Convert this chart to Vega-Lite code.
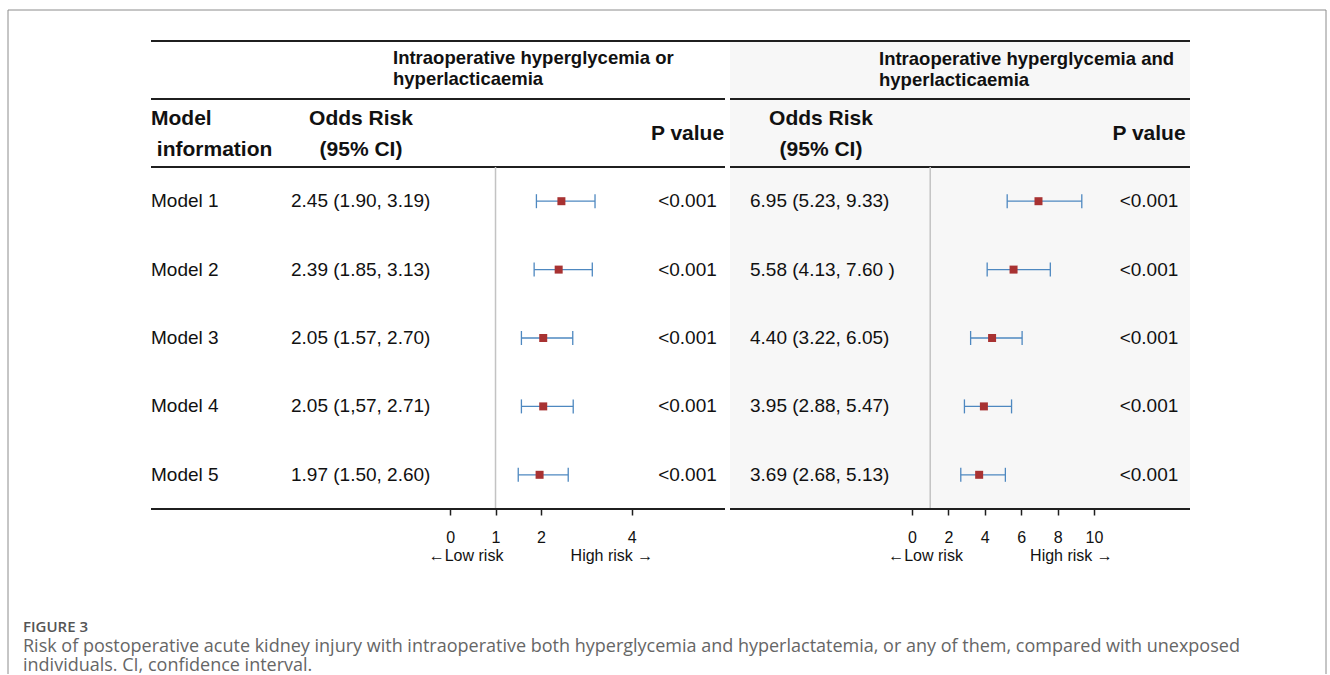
{
"$schema": "https://vega.github.io/schema/vega-lite/v6.json",
"padding": {"left": 7, "top": 9, "right": 0, "bottom": 0},
"background": "white",
"data": {"values": [{}]},
"datasets": {
"left": [
{"model":"Model 1","or":"2.45 (1.90, 3.19)","est":2.45,"lo":1.90,"hi":3.19,"p":"<0.001"},
{"model":"Model 2","or":"2.39 (1.85, 3.13)","est":2.39,"lo":1.85,"hi":3.13,"p":"<0.001"},
{"model":"Model 3","or":"2.05 (1.57, 2.70)","est":2.05,"lo":1.57,"hi":2.70,"p":"<0.001"},
{"model":"Model 4","or":"2.05 (1,57, 2.71)","est":2.05,"lo":1.57,"hi":2.71,"p":"<0.001"},
{"model":"Model 5","or":"1.97 (1.50, 2.60)","est":1.97,"lo":1.50,"hi":2.60,"p":"<0.001"}
],
"right": [
{"model":"Model 1","or":"6.95 (5.23, 9.33)","est":6.95,"lo":5.23,"hi":9.33,"p":"<0.001"},
{"model":"Model 2","or":"5.58 (4.13, 7.60 )","est":5.58,"lo":4.13,"hi":7.60,"p":"<0.001"},
{"model":"Model 3","or":"4.40 (3.22, 6.05)","est":4.40,"lo":3.22,"hi":6.05,"p":"<0.001"},
{"model":"Model 4","or":"3.95 (2.88, 5.47)","est":3.95,"lo":2.88,"hi":5.47,"p":"<0.001"},
{"model":"Model 5","or":"3.69 (2.68, 5.13)","est":3.69,"lo":2.68,"hi":5.13,"p":"<0.001"}
],
"caption": [
{"line":"fig","text":"FIGURE 3"},
{"line":"l1","text":"Risk of postoperative acute kidney injury with intraoperative both hyperglycemia and hyperlactatemia, or any of them, compared with unexposed"},
{"line":"l2","text":"individuals. CI, confidence interval."}
]
},
"columns": 16,
"spacing": 0,
"bounds": "flush",
"concat": [
{"width":15,"height":31,"layer":[{"data":{"values":[{}]},"mark":{"type":"rule","color":"#8c8c8c","strokeWidth":1},"encoding":{"y":{"value":0}}},{"data":{"values":[{}]},"mark":{"type":"rule","color":"#8c8c8c","strokeWidth":1},"encoding":{"x":{"value":0}}}]},
{"width":128,"height":31,"layer":[{"data":{"values":[{}]},"mark":{"type":"rule","color":"#8c8c8c","strokeWidth":1},"encoding":{"y":{"value":0}}}]},
{"width":140,"height":31,"layer":[{"data":{"values":[{}]},"mark":{"type":"rule","color":"#8c8c8c","strokeWidth":1},"encoding":{"y":{"value":0}}}]},
{"width":70,"height":31,"layer":[{"data":{"values":[{}]},"mark":{"type":"rule","color":"#8c8c8c","strokeWidth":1},"encoding":{"y":{"value":0}}}]},
{"width":32,"height":31,"layer":[{"data":{"values":[{}]},"mark":{"type":"rule","color":"#8c8c8c","strokeWidth":1},"encoding":{"y":{"value":0}}}]},
{"width":38,"height":31,"layer":[{"data":{"values":[{}]},"mark":{"type":"rule","color":"#8c8c8c","strokeWidth":1},"encoding":{"y":{"value":0}}}]},
{"width":219,"height":31,"layer":[{"data":{"values":[{}]},"mark":{"type":"rule","color":"#8c8c8c","strokeWidth":1},"encoding":{"y":{"value":0}}}]},
{"width":75,"height":31,"layer":[{"data":{"values":[{}]},"mark":{"type":"rule","color":"#8c8c8c","strokeWidth":1},"encoding":{"y":{"value":0}}}]},
{"width":5,"height":31,"layer":[{"data":{"values":[{}]},"mark":{"type":"rule","color":"#8c8c8c","strokeWidth":1},"encoding":{"y":{"value":0}}}]},
{"width":20,"height":31,"layer":[{"data":{"values":[{}]},"mark":{"type":"rule","color":"#8c8c8c","strokeWidth":1},"encoding":{"y":{"value":0}}}]},
{"width":71,"height":31,"layer":[{"data":{"values":[{}]},"mark":{"type":"rule","color":"#8c8c8c","strokeWidth":1},"encoding":{"y":{"value":0}}}]},
{"width":58,"height":31,"layer":[{"data":{"values":[{}]},"mark":{"type":"rule","color":"#8c8c8c","strokeWidth":1},"encoding":{"y":{"value":0}}}]},
{"width":13,"height":31,"layer":[{"data":{"values":[{}]},"mark":{"type":"rule","color":"#8c8c8c","strokeWidth":1},"encoding":{"y":{"value":0}}}]},
{"width":216,"height":31,"layer":[{"data":{"values":[{}]},"mark":{"type":"rule","color":"#8c8c8c","strokeWidth":1},"encoding":{"y":{"value":0}}}]},
{"width":82,"height":31,"layer":[{"data":{"values":[{}]},"mark":{"type":"rule","color":"#8c8c8c","strokeWidth":1},"encoding":{"y":{"value":0}}}]},
{"width":136,"height":31,"layer":[{"data":{"values":[{}]},"mark":{"type":"rule","color":"#8c8c8c","strokeWidth":1},"encoding":{"y":{"value":0}}},{"data":{"values":[{}]},"mark":{"type":"rule","color":"#8c8c8c","strokeWidth":1},"encoding":{"x":{"value":"width"}}}]},

{"width":15,"height":58,"layer":[{"data":{"values":[{}]},"mark":{"type":"rule","color":"#8c8c8c","strokeWidth":1},"encoding":{"x":{"value":0}}}]},
{"width":128,"height":58,"layer":[{"data":{"values":[{}]},"mark":{"type":"rule","opacity":0},"encoding":{"y":{"value":0}}}]},
{"width":140,"height":58,"layer":[{"data":{"values":[{}]},"mark":{"type":"rule","color":"#1f1f1f","strokeWidth":2},"encoding":{"y":{"value":0}}},{"data":{"values":[{}]},"mark":{"type":"rule","color":"#1f1f1f","strokeWidth":2},"encoding":{"y":{"value":"height"}}}]},
{"width":70,"height":58,"layer":[{"data":{"values":[{}]},"mark":{"type":"rule","color":"#1f1f1f","strokeWidth":2},"encoding":{"y":{"value":0}}},{"data":{"values":[{}]},"mark":{"type":"rule","color":"#1f1f1f","strokeWidth":2},"encoding":{"y":{"value":"height"}}}]},
{"width":32,"height":58,"layer":[{"data":{"values":[{}]},"mark":{"type":"rule","color":"#1f1f1f","strokeWidth":2},"encoding":{"y":{"value":0}}},{"data":{"values":[{}]},"mark":{"type":"rule","color":"#1f1f1f","strokeWidth":2},"encoding":{"y":{"value":"height"}}}]},
{"width":38,"height":58,"layer":[{"data":{"values":[{}]},"mark":{"type":"rule","color":"#1f1f1f","strokeWidth":2},"encoding":{"y":{"value":0}}},{"data":{"values":[{}]},"mark":{"type":"rule","color":"#1f1f1f","strokeWidth":2},"encoding":{"y":{"value":"height"}}},{"data":{"values":[{}]},"mark":{"type":"text","align":"left","baseline":"middle","fontSize":18.5,"fontWeight":"bold","lineHeight":21,"color":"#111","dy":-12},"encoding":{"x":{"value":0},"text":{"value":["Intraoperative hyperglycemia or","hyperlacticaemia"]}}}]},
{"width":219,"height":58,"layer":[{"data":{"values":[{}]},"mark":{"type":"rule","color":"#1f1f1f","strokeWidth":2},"encoding":{"y":{"value":0}}},{"data":{"values":[{}]},"mark":{"type":"rule","color":"#1f1f1f","strokeWidth":2},"encoding":{"y":{"value":"height"}}}]},
{"width":75,"height":58,"layer":[{"data":{"values":[{}]},"mark":{"type":"rule","color":"#1f1f1f","strokeWidth":2},"encoding":{"y":{"value":0}}},{"data":{"values":[{}]},"mark":{"type":"rule","color":"#1f1f1f","strokeWidth":2},"encoding":{"y":{"value":"height"}}}]},
{"width":5,"height":58,"layer":[{"data":{"values":[{}]},"mark":{"type":"rule","color":"#1f1f1f","strokeWidth":2},"encoding":{"y":{"value":0}}}]},
{"width":20,"height":58,"view":{"fill":"#000000","fillOpacity":0.03},"layer":[{"data":{"values":[{}]},"mark":{"type":"rule","color":"#1f1f1f","strokeWidth":2},"encoding":{"y":{"value":0}}},{"data":{"values":[{}]},"mark":{"type":"rule","color":"#1f1f1f","strokeWidth":2},"encoding":{"y":{"value":"height"}}}]},
{"width":71,"height":58,"view":{"fill":"#000000","fillOpacity":0.03},"layer":[{"data":{"values":[{}]},"mark":{"type":"rule","color":"#1f1f1f","strokeWidth":2},"encoding":{"y":{"value":0}}},{"data":{"values":[{}]},"mark":{"type":"rule","color":"#1f1f1f","strokeWidth":2},"encoding":{"y":{"value":"height"}}}]},
{"width":58,"height":58,"view":{"fill":"#000000","fillOpacity":0.03},"layer":[{"data":{"values":[{}]},"mark":{"type":"rule","color":"#1f1f1f","strokeWidth":2},"encoding":{"y":{"value":0}}},{"data":{"values":[{}]},"mark":{"type":"rule","color":"#1f1f1f","strokeWidth":2},"encoding":{"y":{"value":"height"}}}]},
{"width":13,"height":58,"view":{"fill":"#000000","fillOpacity":0.03},"layer":[{"data":{"values":[{}]},"mark":{"type":"rule","color":"#1f1f1f","strokeWidth":2},"encoding":{"y":{"value":0}}},{"data":{"values":[{}]},"mark":{"type":"rule","color":"#1f1f1f","strokeWidth":2},"encoding":{"y":{"value":"height"}}},{"data":{"values":[{}]},"mark":{"type":"text","align":"left","baseline":"middle","fontSize":18.5,"fontWeight":"bold","lineHeight":21,"color":"#111","dy":-11},"encoding":{"x":{"value":0},"text":{"value":["Intraoperative hyperglycemia and","hyperlacticaemia"]}}}]},
{"width":216,"height":58,"view":{"fill":"#000000","fillOpacity":0.03},"layer":[{"data":{"values":[{}]},"mark":{"type":"rule","color":"#1f1f1f","strokeWidth":2},"encoding":{"y":{"value":0}}},{"data":{"values":[{}]},"mark":{"type":"rule","color":"#1f1f1f","strokeWidth":2},"encoding":{"y":{"value":"height"}}}]},
{"width":82,"height":58,"view":{"fill":"#000000","fillOpacity":0.03},"layer":[{"data":{"values":[{}]},"mark":{"type":"rule","color":"#1f1f1f","strokeWidth":2},"encoding":{"y":{"value":0}}},{"data":{"values":[{}]},"mark":{"type":"rule","color":"#1f1f1f","strokeWidth":2},"encoding":{"y":{"value":"height"}}}]},
{"width":136,"height":58,"layer":[{"data":{"values":[{}]},"mark":{"type":"rule","color":"#8c8c8c","strokeWidth":1},"encoding":{"x":{"value":"width"}}}]},

{"width":15,"height":68,"layer":[{"data":{"values":[{}]},"mark":{"type":"rule","color":"#8c8c8c","strokeWidth":1},"encoding":{"x":{"value":0}}}]},
{"width":128,"height":68,"layer":[{"data":{"values":[{}]},"mark":{"type":"rule","opacity":0},"encoding":{"y":{"value":0}}}]},
{"width":140,"height":68,"layer":[{"data":{"values":[{}]},"mark":{"type":"rule","color":"#1f1f1f","strokeWidth":2},"encoding":{"y":{"value":"height"}}},{"data":{"values":[{}]},"mark":{"type":"text","align":"left","baseline":"middle","fontSize":21,"fontWeight":"bold","lineHeight":31,"color":"#111","dy":-14},"encoding":{"x":{"value":0},"text":{"value":["Model","\u200b information"]}}}]},
{"width":70,"height":68,"layer":[{"data":{"values":[{}]},"mark":{"type":"rule","color":"#1f1f1f","strokeWidth":2},"encoding":{"y":{"value":"height"}}}]},
{"width":32,"height":68,"layer":[{"data":{"values":[{}]},"mark":{"type":"rule","color":"#1f1f1f","strokeWidth":2},"encoding":{"y":{"value":"height"}}},{"data":{"values":[{}]},"mark":{"type":"text","align":"center","baseline":"middle","fontSize":21,"fontWeight":"bold","lineHeight":31,"color":"#111","dy":-14},"encoding":{"x":{"value":0},"text":{"value":["Odds Risk","(95% CI)"]}}}]},
{"width":38,"height":68,"layer":[{"data":{"values":[{}]},"mark":{"type":"rule","color":"#1f1f1f","strokeWidth":2},"encoding":{"y":{"value":"height"}}}]},
{"width":219,"height":68,"layer":[{"data":{"values":[{}]},"mark":{"type":"rule","color":"#1f1f1f","strokeWidth":2},"encoding":{"y":{"value":"height"}}}]},
{"width":75,"height":68,"layer":[{"data":{"values":[{}]},"mark":{"type":"rule","color":"#1f1f1f","strokeWidth":2},"encoding":{"y":{"value":"height"}}},{"data":{"values":[{}]},"mark":{"type":"text","align":"center","baseline":"middle","fontSize":21,"fontWeight":"bold","color":"#111","dy":1},"encoding":{"text":{"value":"P value"}}}]},
{"width":5,"height":68,"layer":[{"data":{"values":[{}]},"mark":{"type":"rule","opacity":0},"encoding":{"y":{"value":0}}}]},
{"width":20,"height":68,"view":{"fill":"#000000","fillOpacity":0.03},"layer":[{"data":{"values":[{}]},"mark":{"type":"rule","color":"#1f1f1f","strokeWidth":2},"encoding":{"y":{"value":"height"}}}]},
{"width":71,"height":68,"view":{"fill":"#000000","fillOpacity":0.03},"layer":[{"data":{"values":[{}]},"mark":{"type":"rule","color":"#1f1f1f","strokeWidth":2},"encoding":{"y":{"value":"height"}}}]},
{"width":58,"height":68,"view":{"fill":"#000000","fillOpacity":0.03},"layer":[{"data":{"values":[{}]},"mark":{"type":"rule","color":"#1f1f1f","strokeWidth":2},"encoding":{"y":{"value":"height"}}},{"data":{"values":[{}]},"mark":{"type":"text","align":"center","baseline":"middle","fontSize":21,"fontWeight":"bold","lineHeight":31,"color":"#111","dy":-14},"encoding":{"x":{"value":0},"text":{"value":["Odds Risk","(95% CI)"]}}}]},
{"width":13,"height":68,"view":{"fill":"#000000","fillOpacity":0.03},"layer":[{"data":{"values":[{}]},"mark":{"type":"rule","color":"#1f1f1f","strokeWidth":2},"encoding":{"y":{"value":"height"}}}]},
{"width":216,"height":68,"view":{"fill":"#000000","fillOpacity":0.03},"layer":[{"data":{"values":[{}]},"mark":{"type":"rule","color":"#1f1f1f","strokeWidth":2},"encoding":{"y":{"value":"height"}}}]},
{"width":82,"height":68,"view":{"fill":"#000000","fillOpacity":0.03},"layer":[{"data":{"values":[{}]},"mark":{"type":"rule","color":"#1f1f1f","strokeWidth":2},"encoding":{"y":{"value":"height"}}},{"data":{"values":[{}]},"mark":{"type":"text","align":"center","baseline":"middle","fontSize":21,"fontWeight":"bold","color":"#111","dy":1},"encoding":{"text":{"value":"P value"}}}]},
{"width":136,"height":68,"layer":[{"data":{"values":[{}]},"mark":{"type":"rule","color":"#8c8c8c","strokeWidth":1},"encoding":{"x":{"value":"width"}}}]},

{"width":15,"height":342,"layer":[{"data":{"values":[{}]},"mark":{"type":"rule","color":"#8c8c8c","strokeWidth":1},"encoding":{"x":{"value":0}}}]},
{"width":128,"height":342,"layer":[{"data":{"values":[{}]},"mark":{"type":"rule","opacity":0},"encoding":{"y":{"value":0}}}]},
{"width":140,"height":342,"data":{"name":"left"},"layer":[{"data":{"values":[{}]},"mark":{"type":"rule","color":"#1f1f1f","strokeWidth":2},"encoding":{"y":{"value":"height"}}},{"mark":{"type":"text","align":"left","baseline":"middle","fontSize":19,"color":"#111"},"encoding":{"x":{"value":0},"y":{"field":"model","type":"nominal","axis":null,"scale":{"type":"point","padding":0.5,"domain":["Model 1","Model 2","Model 3","Model 4","Model 5"]}},"text":{"field":"model"}}}]},
{"width":70,"height":342,"data":{"name":"left"},"layer":[{"data":{"values":[{}]},"mark":{"type":"rule","color":"#1f1f1f","strokeWidth":2},"encoding":{"y":{"value":"height"}}},{"mark":{"type":"text","align":"left","baseline":"middle","fontSize":19,"color":"#111"},"encoding":{"x":{"value":0},"y":{"field":"model","type":"nominal","axis":null,"scale":{"type":"point","padding":0.5,"domain":["Model 1","Model 2","Model 3","Model 4","Model 5"]}},"text":{"field":"or"}}}]},
{"width":32,"height":342,"layer":[{"data":{"values":[{}]},"mark":{"type":"rule","color":"#1f1f1f","strokeWidth":2},"encoding":{"y":{"value":"height"}}}]},
{"width":38,"height":342,"layer":[{"data":{"values":[{}]},"mark":{"type":"rule","color":"#1f1f1f","strokeWidth":2},"encoding":{"y":{"value":"height"}}}]},
{"width":219,"height":342,"data":{"name":"left"},"layer":[
 {"mark":{"type":"rule","color":"#4e88c0","strokeWidth":1.3},"encoding":{"x":{"field":"lo","type":"quantitative","scale":{"domain":[-0.42,4.4],"nice":false,"zero":false},"axis":{"values":[0,1,2,4],"format":"d","domain":false,"grid":false,"tickSize":6,"tickWidth":1.5,"tickColor":"#1f1f1f","labelFont":"Liberation Sans","labelFontSize":16,"labelColor":"#111","labelPadding":14,"labelFlush":false,"labelOverlap":false,"title":"←Low risk\u2003\u2003\u2003\u2003\u2009High risk →","titleFont":"Liberation Sans","titleFontSize":16,"titleFontWeight":"normal","titleColor":"#111","titlePadding":2}},"x2":{"field":"hi"},"y":{"field":"model","type":"nominal","axis":null,"scale":{"type":"point","padding":0.5,"domain":["Model 1","Model 2","Model 3","Model 4","Model 5"]}}}},
 {"data":{"values":[{}]},"mark":{"type":"rule","color":"#c3c3c3","strokeWidth":1.5},"encoding":{"x":{"datum":1,"type":"quantitative","scale":{"domain":[-0.42,4.4],"nice":false,"zero":false},"axis":{"values":[0,1,2,4],"format":"d","domain":false,"grid":false,"tickSize":6,"tickWidth":1.5,"tickColor":"#1f1f1f","labelFont":"Liberation Sans","labelFontSize":16,"labelColor":"#111","labelPadding":14,"labelFlush":false,"labelOverlap":false,"title":"←Low risk\u2003\u2003\u2003\u2003\u2009High risk →","titleFont":"Liberation Sans","titleFontSize":16,"titleFontWeight":"normal","titleColor":"#111","titlePadding":2}}}},
 {"mark":{"type":"tick","orient":"vertical","size":14,"thickness":1.3,"color":"#4e88c0","opacity":1},"encoding":{"x":{"field":"lo","type":"quantitative","scale":{"domain":[-0.42,4.4],"nice":false,"zero":false},"axis":{"values":[0,1,2,4],"format":"d","domain":false,"grid":false,"tickSize":6,"tickWidth":1.5,"tickColor":"#1f1f1f","labelFont":"Liberation Sans","labelFontSize":16,"labelColor":"#111","labelPadding":14,"labelFlush":false,"labelOverlap":false,"title":"←Low risk\u2003\u2003\u2003\u2003\u2009High risk →","titleFont":"Liberation Sans","titleFontSize":16,"titleFontWeight":"normal","titleColor":"#111","titlePadding":2}},"y":{"field":"model","type":"nominal","axis":null,"scale":{"type":"point","padding":0.5,"domain":["Model 1","Model 2","Model 3","Model 4","Model 5"]}}}},
 {"mark":{"type":"tick","orient":"vertical","size":14,"thickness":1.3,"color":"#4e88c0","opacity":1},"encoding":{"x":{"field":"hi","type":"quantitative","scale":{"domain":[-0.42,4.4],"nice":false,"zero":false},"axis":{"values":[0,1,2,4],"format":"d","domain":false,"grid":false,"tickSize":6,"tickWidth":1.5,"tickColor":"#1f1f1f","labelFont":"Liberation Sans","labelFontSize":16,"labelColor":"#111","labelPadding":14,"labelFlush":false,"labelOverlap":false,"title":"←Low risk\u2003\u2003\u2003\u2003\u2009High risk →","titleFont":"Liberation Sans","titleFontSize":16,"titleFontWeight":"normal","titleColor":"#111","titlePadding":2}},"y":{"field":"model","type":"nominal","axis":null,"scale":{"type":"point","padding":0.5,"domain":["Model 1","Model 2","Model 3","Model 4","Model 5"]}}}},
 {"mark":{"type":"square","size":64,"color":"#a83232","opacity":1,"filled":true},"encoding":{"x":{"field":"est","type":"quantitative","scale":{"domain":[-0.42,4.4],"nice":false,"zero":false},"axis":{"values":[0,1,2,4],"format":"d","domain":false,"grid":false,"tickSize":6,"tickWidth":1.5,"tickColor":"#1f1f1f","labelFont":"Liberation Sans","labelFontSize":16,"labelColor":"#111","labelPadding":14,"labelFlush":false,"labelOverlap":false,"title":"←Low risk\u2003\u2003\u2003\u2003\u2009High risk →","titleFont":"Liberation Sans","titleFontSize":16,"titleFontWeight":"normal","titleColor":"#111","titlePadding":2}},"y":{"field":"model","type":"nominal","axis":null,"scale":{"type":"point","padding":0.5,"domain":["Model 1","Model 2","Model 3","Model 4","Model 5"]}}}},
 {"data":{"values":[{}]},"mark":{"type":"rule","color":"#1f1f1f","strokeWidth":2},"encoding":{"y":{"value":"height"}}}]},
{"width":75,"height":342,"data":{"name":"left"},"layer":[{"data":{"values":[{}]},"mark":{"type":"rule","color":"#1f1f1f","strokeWidth":2},"encoding":{"y":{"value":"height"}}},{"mark":{"type":"text","align":"center","baseline":"middle","fontSize":19,"color":"#111"},"encoding":{"y":{"field":"model","type":"nominal","axis":null,"scale":{"type":"point","padding":0.5,"domain":["Model 1","Model 2","Model 3","Model 4","Model 5"]}},"text":{"field":"p"}}}]},
{"width":5,"height":342,"layer":[{"data":{"values":[{}]},"mark":{"type":"rule","opacity":0},"encoding":{"y":{"value":0}}}]},
{"width":20,"height":342,"view":{"fill":"#000000","fillOpacity":0.03},"layer":[{"data":{"values":[{}]},"mark":{"type":"rule","color":"#1f1f1f","strokeWidth":2},"encoding":{"y":{"value":"height"}}}]},
{"width":71,"height":342,"view":{"fill":"#000000","fillOpacity":0.03},"data":{"name":"right"},"layer":[{"data":{"values":[{}]},"mark":{"type":"rule","color":"#1f1f1f","strokeWidth":2},"encoding":{"y":{"value":"height"}}},{"mark":{"type":"text","align":"left","baseline":"middle","fontSize":19,"color":"#111"},"encoding":{"x":{"value":0},"y":{"field":"model","type":"nominal","axis":null,"scale":{"type":"point","padding":0.5,"domain":["Model 1","Model 2","Model 3","Model 4","Model 5"]}},"text":{"field":"or"}}}]},
{"width":58,"height":342,"view":{"fill":"#000000","fillOpacity":0.03},"layer":[{"data":{"values":[{}]},"mark":{"type":"rule","color":"#1f1f1f","strokeWidth":2},"encoding":{"y":{"value":"height"}}}]},
{"width":13,"height":342,"view":{"fill":"#000000","fillOpacity":0.03},"layer":[{"data":{"values":[{}]},"mark":{"type":"rule","color":"#1f1f1f","strokeWidth":2},"encoding":{"y":{"value":"height"}}}]},
{"width":216,"height":342,"view":{"fill":"#000000","fillOpacity":0.03},"data":{"name":"right"},"layer":[
 {"mark":{"type":"rule","color":"#4e88c0","strokeWidth":1.3},"encoding":{"x":{"field":"lo","type":"quantitative","scale":{"domain":[-1.1,10.77],"nice":false,"zero":false},"axis":{"values":[0,2,4,6,8,10],"format":"d","domain":false,"grid":false,"tickSize":6,"tickWidth":1.5,"tickColor":"#1f1f1f","labelFont":"Liberation Sans","labelFontSize":16,"labelColor":"#111","labelPadding":14,"labelFlush":false,"labelOverlap":false,"title":"←Low risk\u2003\u2003\u2003\u2003\u2009High risk →","titleFont":"Liberation Sans","titleFontSize":16,"titleFontWeight":"normal","titleColor":"#111","titlePadding":2}},"x2":{"field":"hi"},"y":{"field":"model","type":"nominal","axis":null,"scale":{"type":"point","padding":0.5,"domain":["Model 1","Model 2","Model 3","Model 4","Model 5"]}}}},
 {"data":{"values":[{}]},"mark":{"type":"rule","color":"#c3c3c3","strokeWidth":1.5},"encoding":{"x":{"datum":1,"type":"quantitative","scale":{"domain":[-1.1,10.77],"nice":false,"zero":false},"axis":{"values":[0,2,4,6,8,10],"format":"d","domain":false,"grid":false,"tickSize":6,"tickWidth":1.5,"tickColor":"#1f1f1f","labelFont":"Liberation Sans","labelFontSize":16,"labelColor":"#111","labelPadding":14,"labelFlush":false,"labelOverlap":false,"title":"←Low risk\u2003\u2003\u2003\u2003\u2009High risk →","titleFont":"Liberation Sans","titleFontSize":16,"titleFontWeight":"normal","titleColor":"#111","titlePadding":2}}}},
 {"mark":{"type":"tick","orient":"vertical","size":14,"thickness":1.3,"color":"#4e88c0","opacity":1},"encoding":{"x":{"field":"lo","type":"quantitative","scale":{"domain":[-1.1,10.77],"nice":false,"zero":false},"axis":{"values":[0,2,4,6,8,10],"format":"d","domain":false,"grid":false,"tickSize":6,"tickWidth":1.5,"tickColor":"#1f1f1f","labelFont":"Liberation Sans","labelFontSize":16,"labelColor":"#111","labelPadding":14,"labelFlush":false,"labelOverlap":false,"title":"←Low risk\u2003\u2003\u2003\u2003\u2009High risk →","titleFont":"Liberation Sans","titleFontSize":16,"titleFontWeight":"normal","titleColor":"#111","titlePadding":2}},"y":{"field":"model","type":"nominal","axis":null,"scale":{"type":"point","padding":0.5,"domain":["Model 1","Model 2","Model 3","Model 4","Model 5"]}}}},
 {"mark":{"type":"tick","orient":"vertical","size":14,"thickness":1.3,"color":"#4e88c0","opacity":1},"encoding":{"x":{"field":"hi","type":"quantitative","scale":{"domain":[-1.1,10.77],"nice":false,"zero":false},"axis":{"values":[0,2,4,6,8,10],"format":"d","domain":false,"grid":false,"tickSize":6,"tickWidth":1.5,"tickColor":"#1f1f1f","labelFont":"Liberation Sans","labelFontSize":16,"labelColor":"#111","labelPadding":14,"labelFlush":false,"labelOverlap":false,"title":"←Low risk\u2003\u2003\u2003\u2003\u2009High risk →","titleFont":"Liberation Sans","titleFontSize":16,"titleFontWeight":"normal","titleColor":"#111","titlePadding":2}},"y":{"field":"model","type":"nominal","axis":null,"scale":{"type":"point","padding":0.5,"domain":["Model 1","Model 2","Model 3","Model 4","Model 5"]}}}},
 {"mark":{"type":"square","size":64,"color":"#a83232","opacity":1,"filled":true},"encoding":{"x":{"field":"est","type":"quantitative","scale":{"domain":[-1.1,10.77],"nice":false,"zero":false},"axis":{"values":[0,2,4,6,8,10],"format":"d","domain":false,"grid":false,"tickSize":6,"tickWidth":1.5,"tickColor":"#1f1f1f","labelFont":"Liberation Sans","labelFontSize":16,"labelColor":"#111","labelPadding":14,"labelFlush":false,"labelOverlap":false,"title":"←Low risk\u2003\u2003\u2003\u2003\u2009High risk →","titleFont":"Liberation Sans","titleFontSize":16,"titleFontWeight":"normal","titleColor":"#111","titlePadding":2}},"y":{"field":"model","type":"nominal","axis":null,"scale":{"type":"point","padding":0.5,"domain":["Model 1","Model 2","Model 3","Model 4","Model 5"]}}}},
 {"data":{"values":[{}]},"mark":{"type":"rule","color":"#1f1f1f","strokeWidth":2},"encoding":{"y":{"value":"height"}}}]},
{"width":82,"height":342,"view":{"fill":"#000000","fillOpacity":0.03},"data":{"name":"right"},"layer":[{"data":{"values":[{}]},"mark":{"type":"rule","color":"#1f1f1f","strokeWidth":2},"encoding":{"y":{"value":"height"}}},{"mark":{"type":"text","align":"center","baseline":"middle","fontSize":19,"color":"#111"},"encoding":{"y":{"field":"model","type":"nominal","axis":null,"scale":{"type":"point","padding":0.5,"domain":["Model 1","Model 2","Model 3","Model 4","Model 5"]}},"text":{"field":"p"}}}]},
{"width":136,"height":342,"layer":[{"data":{"values":[{}]},"mark":{"type":"rule","color":"#8c8c8c","strokeWidth":1},"encoding":{"x":{"value":"width"}}}]},

{"width":15,"height":118,"layer":[{"data":{"values":[{}]},"mark":{"type":"rule","color":"#8c8c8c","strokeWidth":1},"encoding":{"x":{"value":0}}}]},
{"width":128,"height":118,"layer":[{"data":{"values":[{}]},"mark":{"type":"rule","opacity":0},"encoding":{"y":{"value":0}}}]},
{"width":140,"height":118,"layer":[{"data":{"values":[{}]},"mark":{"type":"rule","opacity":0},"encoding":{"y":{"value":0}}}]},
{"width":70,"height":118,"layer":[{"data":{"values":[{}]},"mark":{"type":"rule","opacity":0},"encoding":{"y":{"value":0}}}]},
{"width":32,"height":118,"layer":[{"data":{"values":[{}]},"mark":{"type":"rule","opacity":0},"encoding":{"y":{"value":0}}}]},
{"width":38,"height":118,"layer":[{"data":{"values":[{}]},"mark":{"type":"rule","opacity":0},"encoding":{"y":{"value":0}}}]},
{"width":219,"height":118,"layer":[{"data":{"values":[{}]},"mark":{"type":"rule","opacity":0},"encoding":{"y":{"value":0}}}]},
{"width":75,"height":118,"layer":[{"data":{"values":[{}]},"mark":{"type":"rule","opacity":0},"encoding":{"y":{"value":0}}}]},
{"width":5,"height":118,"layer":[{"data":{"values":[{}]},"mark":{"type":"rule","opacity":0},"encoding":{"y":{"value":0}}}]},
{"width":20,"height":118,"layer":[{"data":{"values":[{}]},"mark":{"type":"rule","opacity":0},"encoding":{"y":{"value":0}}}]},
{"width":71,"height":118,"layer":[{"data":{"values":[{}]},"mark":{"type":"rule","opacity":0},"encoding":{"y":{"value":0}}}]},
{"width":58,"height":118,"layer":[{"data":{"values":[{}]},"mark":{"type":"rule","opacity":0},"encoding":{"y":{"value":0}}}]},
{"width":13,"height":118,"layer":[{"data":{"values":[{}]},"mark":{"type":"rule","opacity":0},"encoding":{"y":{"value":0}}}]},
{"width":216,"height":118,"layer":[{"data":{"values":[{}]},"mark":{"type":"rule","opacity":0},"encoding":{"y":{"value":0}}}]},
{"width":82,"height":118,"layer":[{"data":{"values":[{}]},"mark":{"type":"rule","opacity":0},"encoding":{"y":{"value":0}}}]},
{"width":136,"height":118,"layer":[{"data":{"values":[{}]},"mark":{"type":"rule","color":"#8c8c8c","strokeWidth":1},"encoding":{"x":{"value":"width"}}}]},

{"width":15,"height":39,"layer":[{"data":{"values":[{}]},"mark":{"type":"rule","color":"#8c8c8c","strokeWidth":1},"encoding":{"x":{"value":0}}}]},
{"width":128,"height":39,"data":{"name":"caption"},"layer":[
 {"transform":[{"filter":"datum.line === 'fig'"}],"mark":{"type":"text","align":"left","baseline":"middle","font":"Open Sans","fontSize":15,"fontWeight":600,"color":"#555555"},"encoding":{"x":{"value":0},"y":{"field":"line","type":"nominal","axis":null,"scale":{"type":"point","padding":0,"domain":["fig","l1","l2"]}},"text":{"field":"text"}}},
 {"transform":[{"filter":"datum.line !== 'fig'"}],"mark":{"type":"text","align":"left","baseline":"middle","font":"Open Sans","fontSize":18,"color":"#666666"},"encoding":{"x":{"value":0},"y":{"field":"line","type":"nominal","axis":null,"scale":{"type":"point","padding":0,"domain":["fig","l1","l2"]}},"text":{"field":"text"}}}]},
{"width":140,"height":39,"layer":[{"data":{"values":[{}]},"mark":{"type":"rule","opacity":0},"encoding":{"y":{"value":0}}}]},
{"width":70,"height":39,"layer":[{"data":{"values":[{}]},"mark":{"type":"rule","opacity":0},"encoding":{"y":{"value":0}}}]},
{"width":32,"height":39,"layer":[{"data":{"values":[{}]},"mark":{"type":"rule","opacity":0},"encoding":{"y":{"value":0}}}]},
{"width":38,"height":39,"layer":[{"data":{"values":[{}]},"mark":{"type":"rule","opacity":0},"encoding":{"y":{"value":0}}}]},
{"width":219,"height":39,"layer":[{"data":{"values":[{}]},"mark":{"type":"rule","opacity":0},"encoding":{"y":{"value":0}}}]},
{"width":75,"height":39,"layer":[{"data":{"values":[{}]},"mark":{"type":"rule","opacity":0},"encoding":{"y":{"value":0}}}]},
{"width":5,"height":39,"layer":[{"data":{"values":[{}]},"mark":{"type":"rule","opacity":0},"encoding":{"y":{"value":0}}}]},
{"width":20,"height":39,"layer":[{"data":{"values":[{}]},"mark":{"type":"rule","opacity":0},"encoding":{"y":{"value":0}}}]},
{"width":71,"height":39,"layer":[{"data":{"values":[{}]},"mark":{"type":"rule","opacity":0},"encoding":{"y":{"value":0}}}]},
{"width":58,"height":39,"layer":[{"data":{"values":[{}]},"mark":{"type":"rule","opacity":0},"encoding":{"y":{"value":0}}}]},
{"width":13,"height":39,"layer":[{"data":{"values":[{}]},"mark":{"type":"rule","opacity":0},"encoding":{"y":{"value":0}}}]},
{"width":216,"height":39,"layer":[{"data":{"values":[{}]},"mark":{"type":"rule","opacity":0},"encoding":{"y":{"value":0}}}]},
{"width":82,"height":39,"layer":[{"data":{"values":[{}]},"mark":{"type":"rule","opacity":0},"encoding":{"y":{"value":0}}}]},
{"width":136,"height":39,"layer":[{"data":{"values":[{}]},"mark":{"type":"rule","color":"#8c8c8c","strokeWidth":1},"encoding":{"x":{"value":"width"}}}]},

{"width":15,"height":8,"layer":[{"data":{"values":[{}]},"mark":{"type":"rule","color":"#8c8c8c","strokeWidth":1},"encoding":{"x":{"value":0}}}]},
{"width":128,"height":8,"layer":[{"data":{"values":[{}]},"mark":{"type":"rule","opacity":0},"encoding":{"y":{"value":0}}}]},
{"width":140,"height":8,"layer":[{"data":{"values":[{}]},"mark":{"type":"rule","opacity":0},"encoding":{"y":{"value":0}}}]},
{"width":70,"height":8,"layer":[{"data":{"values":[{}]},"mark":{"type":"rule","opacity":0},"encoding":{"y":{"value":0}}}]},
{"width":32,"height":8,"layer":[{"data":{"values":[{}]},"mark":{"type":"rule","opacity":0},"encoding":{"y":{"value":0}}}]},
{"width":38,"height":8,"layer":[{"data":{"values":[{}]},"mark":{"type":"rule","opacity":0},"encoding":{"y":{"value":0}}}]},
{"width":219,"height":8,"layer":[{"data":{"values":[{}]},"mark":{"type":"rule","opacity":0},"encoding":{"y":{"value":0}}}]},
{"width":75,"height":8,"layer":[{"data":{"values":[{}]},"mark":{"type":"rule","opacity":0},"encoding":{"y":{"value":0}}}]},
{"width":5,"height":8,"layer":[{"data":{"values":[{}]},"mark":{"type":"rule","opacity":0},"encoding":{"y":{"value":0}}}]},
{"width":20,"height":8,"layer":[{"data":{"values":[{}]},"mark":{"type":"rule","opacity":0},"encoding":{"y":{"value":0}}}]},
{"width":71,"height":8,"layer":[{"data":{"values":[{}]},"mark":{"type":"rule","opacity":0},"encoding":{"y":{"value":0}}}]},
{"width":58,"height":8,"layer":[{"data":{"values":[{}]},"mark":{"type":"rule","opacity":0},"encoding":{"y":{"value":0}}}]},
{"width":13,"height":8,"layer":[{"data":{"values":[{}]},"mark":{"type":"rule","opacity":0},"encoding":{"y":{"value":0}}}]},
{"width":216,"height":8,"layer":[{"data":{"values":[{}]},"mark":{"type":"rule","opacity":0},"encoding":{"y":{"value":0}}}]},
{"width":82,"height":8,"layer":[{"data":{"values":[{}]},"mark":{"type":"rule","opacity":0},"encoding":{"y":{"value":0}}}]},
{"width":136,"height":8,"layer":[{"data":{"values":[{}]},"mark":{"type":"rule","color":"#8c8c8c","strokeWidth":1},"encoding":{"x":{"value":"width"}}}]}
],
"config": {
 "view": {"stroke": null},
 "text": {"font": "Liberation Sans"},
 "axis": {"labelFont": "Liberation Sans", "titleFont": "Liberation Sans"}
}
}
